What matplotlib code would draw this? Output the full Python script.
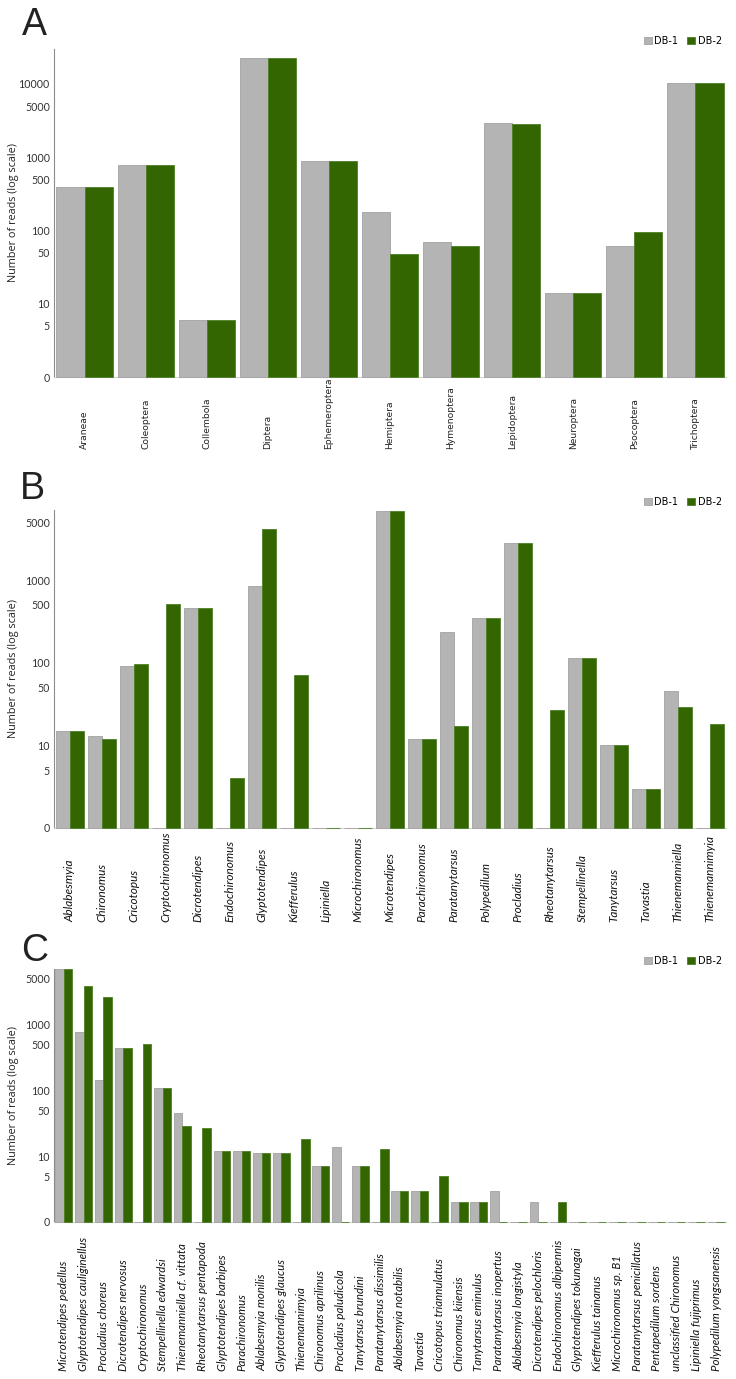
import numpy as np
import matplotlib.pyplot as plt

# panel A - orders
orders = ['Araneae', 'Coleoptera', 'Collembola', 'Diptera', 'Ephemeroptera', 'Hemiptera',
          'Hymenoptera', 'Lepidoptera', 'Neuroptera', 'Psocoptera', 'Trichoptera']
orders_db1 = [390, 780, 6, 22600, 890, 177, 70, 2930, 14, 61, 10200]
orders_db2 = [390, 780, 6, 22600, 890, 47, 61, 2870, 14, 95, 10200]

# panel B - genera
genera = ['Ablabesmyia', 'Chironomus', 'Cricotopus', 'Cryptochironomus', 'Dicrotendipes',
          'Endochironomus', 'Glyptotendipes', 'Kiefferulus', 'Lipiniella', 'Microchironomus',
          'Microtendipes', 'Parachironomus', 'Paratanytarsus', 'Polypedilum', 'Procladius',
          'Rheotanytarsus', 'Stempellinella', 'Tanytarsus', 'Tavastia', 'Thienemanniella',
          'Thienemannimyia']
genera_db1 = [15, 13, 91, 0, 457, 0, 850, 0, 0, 0, 6900, 12, 234, 348, 2800, 0, 115, 10, 3, 46, 0]
genera_db2 = [15, 12, 97, 519, 457, 4, 4100, 72, 0, 0, 6900, 12, 17, 348, 2800, 27, 115, 10, 3, 29, 18]

# panel C - species
species = ['Microtendipes pedellus', 'Glyptotendipes cauliginellus', 'Procladius choreus',
           'Dicrotendipes nervosus', 'Cryptochironomus', 'Stempellinella edwardsi',
           'Thienemanniella cf. vittata', 'Rheotanytarsus pentapoda', 'Glyptotendipes barbipes',
           'Parachironomus', 'Ablabesmyia monilis', 'Glyptotendipes glaucus', 'Thienemannimyia',
           'Chironomus aprilinus', 'Procladius paludicola', 'Tanytarsus brundini',
           'Paratanytarsus dissimilis', 'Ablabesmyia notabilis', 'Tavastia',
           'Cricotopus triannulatus', 'Chironomus kiiensis', 'Tanytarsus eminulus',
           'Paratanytarsus inopertus', 'Ablabesmyia longistyla', 'Dicrotendipes pelochloris',
           'Endochironomus albipennis', 'Glyptotendipes tokunagai', 'Kiefferulus tainanus',
           'Microchironomus sp. B1', 'Paratanytarsus penicillatus', 'Pentapedilum sordens',
           'unclassified Chironomus', 'Lipiniella fujiprimus', 'Polypedilum yongsanensis']
species_db1 = [6900, 776, 145, 439, 0, 109, 45, 0, 12, 12, 11, 11, 0, 7, 14, 7, 0, 3, 3,
               0, 2, 2, 3, 0, 2, 0, 0, 0, 0, 0, 0, 0, 0, 0]
species_db2 = [6900, 3840, 2640, 439, 500, 109, 29, 27, 12, 12, 11, 11, 18, 7, 0, 7, 13, 3, 3,
               5, 2, 2, 0, 0, 0, 2, 0, 0, 0, 0, 0, 0, 0, 0]

ticks_a = [1, 5, 10, 50, 100, 500, 1000, 5000, 10000]
ticks_bc = [1, 5, 10, 50, 100, 500, 1000, 5000]

GRAY = '#b4b4b4'
GREEN = '#336600'
W, H = 736.0, 1379.0

fig = plt.figure(figsize=(7.36, 13.79), dpi=100)


def panel(top_px, bot_px, names, db1, db2, yticks, ytop, bw, italic, fsize, pad, letter, letter_px):
    ax = fig.add_axes([54 / W, 1 - bot_px / H, 672 / W, (bot_px - top_px) / H])
    x = np.arange(len(names))
    # log axis: zero reads sit on the "0" line (value 1)
    h1 = np.maximum(np.array(db1, float), 1) - 1
    h2 = np.maximum(np.array(db2, float), 1) - 1
    ax.bar(x - bw / 2, h1, bw, bottom=1, color=GRAY, edgecolor='#a2a2a2', linewidth=0.6,
           label='DB-1', clip_on=False, zorder=3)
    ax.bar(x + bw / 2, h2, bw, bottom=1, color=GREEN, edgecolor='#4f7f25', linewidth=0.6,
           label='DB-2', clip_on=False, zorder=3)
    ax.set_yscale('log')
    ax.set_ylim(1, ytop)
    ax.set_xlim(-0.5, len(names) - 0.5)
    ax.set_yticks(yticks, ['0' if t == 1 else str(t) for t in yticks],
                  family='Lato', fontsize=7.7, color='#333333')
    ax.minorticks_off()
    ax.tick_params(axis='y', length=0, pad=3)
    if italic:
        ax.set_xticks(x, names, rotation=90, va='bottom', family='Lato', style='italic',
                      fontsize=fsize, color='#111111')
    else:
        ax.set_xticks(x, names, rotation=90, va='bottom', family='DejaVu Sans',
                      fontsize=fsize, color='#222222')
    ax.tick_params(axis='x', length=0, pad=pad)
    for s in ['top', 'right']:
        ax.spines[s].set_visible(False)
    ax.spines['left'].set_color('#8c8c8c')
    ax.spines['left'].set_linewidth(0.8)
    ax.spines['bottom'].set_color('#d4d4d4')
    ax.spines['bottom'].set_linewidth(0.8)
    ax.set_ylabel('Number of reads (log scale)', family='Open Sans', fontsize=7.8, color='#222222')
    ax.yaxis.set_label_coords(-0.052, 0.5)
    ax.legend(loc='center right', bbox_to_anchor=(722 / W, 1 - (top_px - 8) / H),
              bbox_transform=fig.transFigure, ncol=2, frameon=False,
              prop={'family': 'DejaVu Sans', 'size': 7}, handlelength=0.8, handleheight=0.8,
              handletextpad=0.3, columnspacing=0.9, borderpad=0, borderaxespad=0)
    fig.text(letter_px[0] / W, 1 - letter_px[1] / H, letter, family='Liberation Sans',
             fontsize=27, color='#222222', va='baseline', ha='left')
    return ax


panel(49, 377, orders, orders_db1, orders_db2, ticks_a, 30000, 0.46, False, 6.6, 52, 'A', (22, 35))
panel(510, 828, genera, genera_db1, genera_db2, ticks_bc, 7050, 0.44, True, 8.5, 68, 'B', (20, 499))
panel(969, 1222, species, species_db1, species_db2, ticks_bc, 7000, 0.43, True, 8.3, 107, 'C', (21, 961))

fig.savefig('out.png', dpi=100)
